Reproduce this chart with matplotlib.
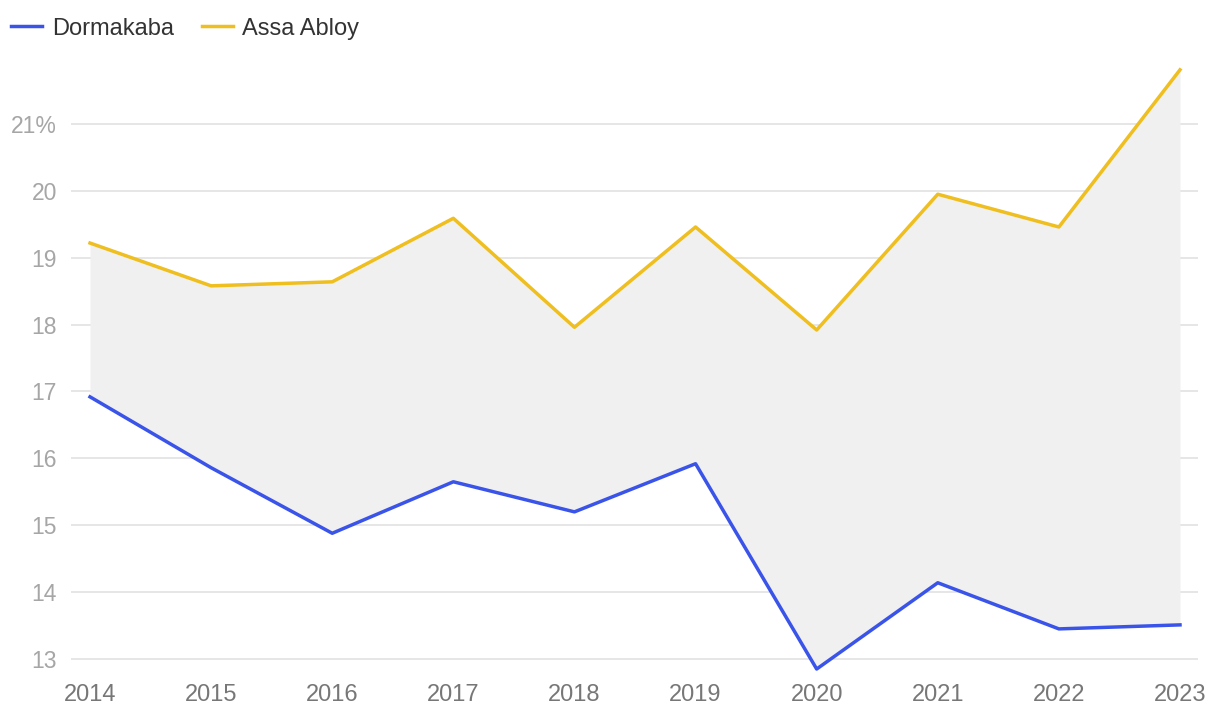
import numpy as np
import matplotlib.pyplot as plt

years = [2014, 2015, 2016, 2017, 2018, 2019, 2020, 2021, 2022, 2023]
dormakaba = [16.92, 15.86, 14.88, 15.65, 15.20, 15.92, 12.85, 14.14, 13.45, 13.51]
assa_abloy = [19.22, 18.58, 18.64, 19.59, 17.96, 19.46, 17.92, 19.95, 19.46, 21.81]
y_ticks = [13, 14, 15, 16, 17, 18, 19, 20, 21]
y_labels = ['13', '14', '15', '16', '17', '18', '19', '20', '21%']

plt.rcParams['font.family'] = ['Liberation Sans', 'DejaVu Sans']

fig = plt.figure(figsize=(12.2, 7.16), dpi=100)
ax = fig.add_axes([0.0582, 0.0615, 0.9238, 0.8547])

ax.fill_between(years, dormakaba, assa_abloy, color='#f0f0f0', linewidth=0, zorder=1)
ax.plot(years, dormakaba, color='#3a54ea', linewidth=2.5, label='Dormakaba', zorder=3)
ax.plot(years, assa_abloy, color='#efbe1f', linewidth=2.5, label='Assa Abloy', zorder=3)

ax.set_xlim(2013.843, 2023.149)
ax.set_ylim(12.806, 21.957)
ax.set_yticks(y_ticks)
ax.set_yticklabels(y_labels)
ax.set_xticks(years)
ax.grid(axis='y', color='#e2e2e2', linewidth=1.2, zorder=0)
ax.set_axisbelow(True)
for s in ax.spines.values():
    s.set_visible(False)
ax.tick_params(axis='y', length=0, pad=10, labelsize=16.5, labelcolor='#a6a6a6')
ax.tick_params(axis='x', length=0, pad=9, labelsize=17, labelcolor='#777777')

fig.legend(loc='upper left', bbox_to_anchor=(-0.008, 1.005), ncol=2, frameon=False,
           fontsize=17, handlelength=1.3, handletextpad=0.4, columnspacing=1.2,
           labelcolor='#333333')

fig.savefig('out.png', dpi=100)
